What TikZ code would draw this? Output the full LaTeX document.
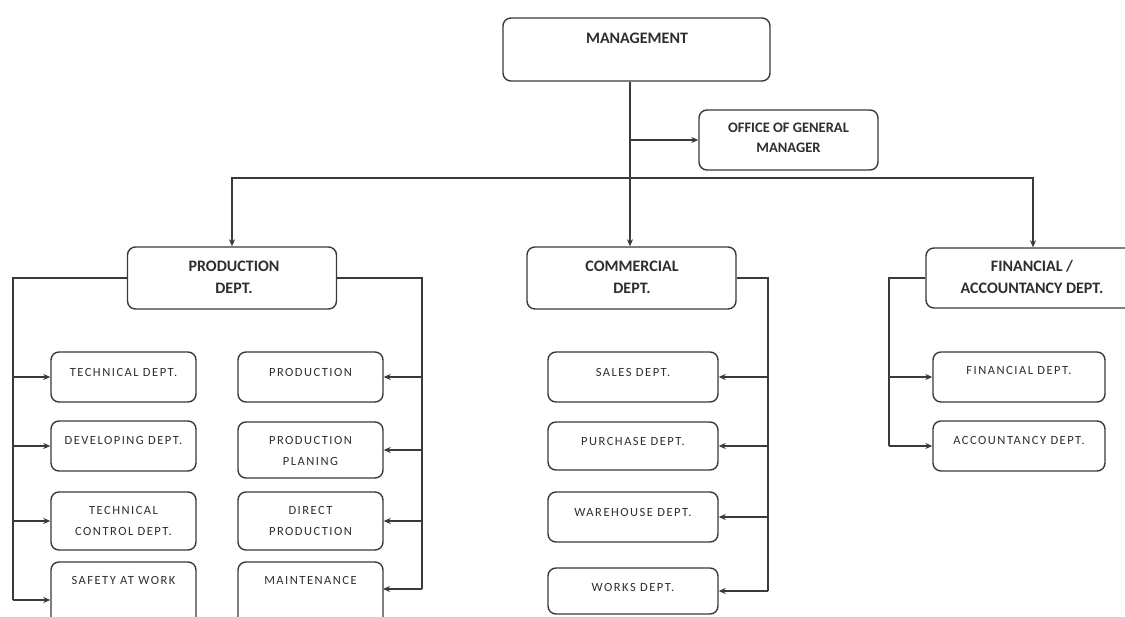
\documentclass[tikz,border=0pt]{standalone}
\usepackage{fontspec}
\setmainfont{Carlito}
\newfontfamily\kidfont[LetterSpace=12]{Carlito}
\usetikzlibrary{arrows.meta}
\definecolor{ln}{HTML}{3A3A3A}
\definecolor{tx}{HTML}{2E2E2E}
\tikzset{
  box/.style={draw=ln, line width=1.4pt, rounded corners=8pt, inner sep=0pt, fill=white},
  head/.style={text=tx, align=center, inner sep=0pt, font=\fontsize{16}{22}\selectfont\bfseries},
  kid/.style={text=tx, align=center, inner sep=0pt, font=\fontsize{12.5}{21}\selectfont\kidfont},
  wire/.style={draw=ln, line width=1.5pt},
  arr/.style={wire, -{Stealth[length=7pt,width=6pt]}}
}
\begin{document}
\begin{tikzpicture}[x=1pt,y=-1pt]
\useasboundingbox (0,0) rectangle (1125,617);
\clip (0,0) rectangle (1125,617);
\fill[white] (0,0) rectangle (1125,617);
% top level
\node[box, minimum width=267pt, minimum height=63pt] (mgmt) at (636.5,49.5) {};
\node[head] (mgmtt) at (637,38) {MANAGEMENT};
\node[box, minimum width=179pt, minimum height=60pt] (ogm) at (788.5,140) {};
\node[head, font=\fontsize{14.5}{20}\selectfont\bfseries] (ogmt) at (788.5,138) {OFFICE OF GENERAL\\MANAGER};
% departments
\node[box, minimum width=209pt, minimum height=62pt] (prod) at (232,278) {};
\node[head] (prodt) at (234,277) {PRODUCTION\\DEPT.};
\node[box, minimum width=209pt, minimum height=62pt] (comm) at (631.5,278) {};
\node[head] (commt) at (632,277) {COMMERCIAL\\DEPT.};
\node[box, minimum width=214pt, minimum height=60pt] (fin) at (1033,278) {};
\node[head] (fint) at (1032,277) {FINANCIAL /\\ACCOUNTANCY DEPT.};
% production children left
\node[box, minimum width=145pt, minimum height=50pt] (t1) at (123.5,377) {};
\node[kid] (t1t) at (123.5,372) {TECHNICAL DEPT.};
\node[box, minimum width=145pt, minimum height=50pt] (t2) at (123.5,446) {};
\node[kid] (t2t) at (123.5,440) {DEVELOPING DEPT.};
\node[box, minimum width=145pt, minimum height=58pt] (t3) at (123.5,521) {};
\node[kid] (t3t) at (123.5,520.5) {TECHNICAL\\CONTROL DEPT.};
\node[box, minimum width=145pt, minimum height=76pt] (t4) at (123.5,600) {};
\node[kid] (t4t) at (123.5,580) {SAFETY AT WORK};
% production children right
\node[box, minimum width=145pt, minimum height=50pt] (r1) at (310.5,377) {};
\node[kid] (r1t) at (310.5,372) {PRODUCTION};
\node[box, minimum width=145pt, minimum height=56pt] (r2) at (310.5,450) {};
\node[kid] (r2t) at (310.5,451) {PRODUCTION\\PLANING};
\node[box, minimum width=145pt, minimum height=58pt] (r3) at (310.5,521) {};
\node[kid] (r3t) at (310.5,520.5) {DIRECT\\PRODUCTION};
\node[box, minimum width=145pt, minimum height=76pt] (r4) at (310.5,600) {};
\node[kid] (r4t) at (310.5,580) {MAINTENANCE};
\coordinate (r4a) at (383,589);
% commercial children
\node[box, minimum width=170pt, minimum height=50pt] (c1) at (633,377) {};
\node[kid] (c1t) at (633,372) {SALES DEPT.};
\node[box, minimum width=170pt, minimum height=48pt] (c2) at (633,446) {};
\node[kid] (c2t) at (633,441) {PURCHASE DEPT.};
\node[box, minimum width=170pt, minimum height=50pt] (c3) at (633,517) {};
\node[kid] (c3t) at (633,512) {WAREHOUSE DEPT.};
\node[box, minimum width=170pt, minimum height=46pt] (c4) at (633,591) {};
\node[kid] (c4t) at (633,587) {WORKS DEPT.};
% financial children
\node[box, minimum width=172pt, minimum height=50pt] (f1) at (1019,377) {};
\node[kid] (f1t) at (1019,370) {FINANCIAL DEPT.};
\node[box, minimum width=172pt, minimum height=50pt] (f2) at (1019,446) {};
\node[kid] (f2t) at (1019,440) {ACCOUNTANCY DEPT.};
% bus coordinates
\coordinate (hbus) at (630,178);
\coordinate (lbx) at (13,0);
\coordinate (rbx) at (422,0);
\coordinate (cbx) at (768,0);
\coordinate (fbx) at (889,0);
% top connectors
\draw[arr] (mgmt.south -| hbus) -- (comm.north -| hbus);
\draw[arr] (ogm.west -| hbus) -- (ogm.west);
\draw[arr] (hbus) -| (prod.north);
\draw[arr] (hbus) -| (fin.north);
% production buses
\draw[wire] (prod.west) -- (prod.west -| lbx) -- (t4.west -| lbx);
\foreach \n in {t1,t2,t3,t4} \draw[arr] (\n.west -| lbx) -- (\n.west);
\draw[wire] (prod.east) -- (prod.east -| rbx) -- (r4a -| rbx);
\foreach \n in {r1.east,r2.east,r3.east,r4a} \draw[arr] (\n -| rbx) -- (\n);
% commercial bus
\draw[wire] (comm.east) -- (comm.east -| cbx) -- (c4.east -| cbx);
\foreach \n in {c1,c2,c3,c4} \draw[arr] (\n.east -| cbx) -- (\n.east);
% financial bus
\draw[wire] (fin.west) -- (fin.west -| fbx) -- (f2.west -| fbx);
\foreach \n in {f1,f2} \draw[arr] (\n.west -| fbx) -- (\n.west);
\end{tikzpicture}
\end{document}
